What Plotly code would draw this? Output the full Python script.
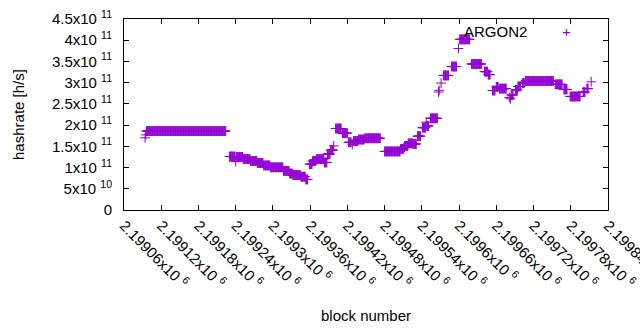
import numpy as np
import plotly.graph_objects as go

# Runs of consecutive blocks sharing the same hashrate estimate (value in units of 1e11 h/s)
run_start = [2199094, 2199095, 2199096, 2199097, 2199230, 2199240, 2199241, 2199252, 2199264, 2199275,
             2199285, 2199296, 2199317, 2199327, 2199332, 2199345, 2199353, 2199359, 2199364, 2199370,
             2199383, 2199388, 2199393, 2199398, 2199401, 2199412, 2199422, 2199428, 2199430, 2199438,
             2199448, 2199480, 2199506, 2199512, 2199518, 2199526, 2199533, 2199541, 2199547, 2199548,
             2199554, 2199567, 2199568, 2199571, 2199575, 2199588, 2199599, 2199601, 2199620, 2199641,
             2199647, 2199654, 2199660, 2199665, 2199681, 2199683, 2199684, 2199691, 2199695, 2199702,
             2199707, 2199755, 2199769, 2199779, 2199800, 2199806, 2199813]
run_end = [2199094, 2199095, 2199096, 2199224, 2199239, 2199240, 2199251, 2199263, 2199274, 2199284,
           2199295, 2199316, 2199326, 2199331, 2199344, 2199352, 2199356, 2199363, 2199369, 2199382,
           2199387, 2199392, 2199397, 2199398, 2199410, 2199420, 2199426, 2199428, 2199437, 2199447,
           2199473, 2199505, 2199511, 2199517, 2199525, 2199531, 2199538, 2199546, 2199547, 2199551,
           2199565, 2199567, 2199568, 2199571, 2199583, 2199596, 2199599, 2199617, 2199636, 2199646,
           2199650, 2199658, 2199663, 2199676, 2199681, 2199683, 2199687, 2199694, 2199699, 2199705,
           2199752, 2199766, 2199774, 2199795, 2199803, 2199808, 2199813]
run_value = [1.70, 1.77, 1.86, 1.86, 1.26, 1.14, 1.25, 1.20, 1.155, 1.107,
             1.05, 1.006, 0.92, 0.86, 0.825, 0.785, 0.72, 1.08, 1.155, 1.20,
             1.12, 1.32, 1.41, 1.51, 1.92, 1.81, 1.595, 1.55, 1.626, 1.66,
             1.69, 1.38, 1.44, 1.51, 1.57, 1.555, 1.74, 1.94, 2.07, 1.98,
             2.16, 2.78, 2.82, 2.99, 3.17, 3.38, 3.805, 4.02, 3.44, 3.26,
             3.19, 2.815, 2.90, 2.86, 2.65, 2.62, 2.71, 2.83, 2.91, 2.99,
             3.04, 2.96, 2.84, 2.675, 2.78, 2.86, 3.02]

x_ticks = [2199060, 2199120, 2199180, 2199240, 2199300, 2199360, 2199420, 2199480,
           2199540, 2199600, 2199660, 2199720, 2199780, 2199840]
x_tick_text = ["2.19906x10 <sup>6</sup>", "2.19912x10 <sup>6</sup>", "2.19918x10 <sup>6</sup>",
               "2.19924x10 <sup>6</sup>", "2.1993x10 <sup>6</sup>", "2.19936x10 <sup>6</sup>",
               "2.19942x10 <sup>6</sup>", "2.19948x10 <sup>6</sup>", "2.19954x10 <sup>6</sup>",
               "2.1996x10 <sup>6</sup>", "2.19966x10 <sup>6</sup>", "2.19972x10 <sup>6</sup>",
               "2.19978x10 <sup>6</sup>", "2.19984x10 <sup>6</sup>"]
y_ticks = [0, 0.5e11, 1e11, 1.5e11, 2e11, 2.5e11, 3e11, 3.5e11, 4e11, 4.5e11]
y_tick_text = ["0", "5x10 <sup>10</sup>", "1x10 <sup>11</sup>", "1.5x10 <sup>11</sup>",
               "2x10 <sup>11</sup>", "2.5x10 <sup>11</sup>", "3x10 <sup>11</sup>",
               "3.5x10 <sup>11</sup>", "4x10 <sup>11</sup>", "4.5x10 <sup>11</sup>"]

blocks = []
rates = []
for s, e, v in zip(run_start, run_end, run_value):
    n = e - s + 1
    blocks.extend(range(s, e + 1))
    rates.extend([v * 1e11] * n)

COLOR = "#9400D3"
FONT = "Liberation Sans, Arial, sans-serif"

fig = go.Figure()
fig.add_trace(go.Scatter(
    x=blocks, y=rates, mode="markers", name="ARGON2",
    marker=dict(symbol="cross-thin-open", size=7, line=dict(width=1, color=COLOR), color=COLOR),
    showlegend=False, cliponaxis=False,
))

axis_common = dict(
    showline=True, linecolor="black", linewidth=1, mirror="ticks",
    ticks="inside", ticklen=5, tickcolor="black", tickwidth=1,
    showgrid=False, zeroline=False, automargin=False,
    ticklabeloverflow="allow",
    tickfont=dict(family=FONT, size=15, color="black"),
)

fig.update_xaxes(range=[2199060, 2199840.05], tickvals=x_ticks, ticktext=x_tick_text,
                 tickangle=45, **axis_common)
fig.update_yaxes(range=[0, 4.5e11], tickvals=y_ticks, ticktext=y_tick_text,
                 ticklabelstandoff=8, **axis_common)

fig.add_annotation(text="hashrate [h/s]", xref="paper", yref="paper", x=-0.218, y=0.5,
                   textangle=-90, showarrow=False, xanchor="center", yanchor="middle",
                   font=dict(family=FONT, size=15, color="black"))
fig.add_annotation(text="block number", xref="paper", yref="paper", x=0.5, y=-0.55,
                   showarrow=False, xanchor="center", yanchor="middle",
                   font=dict(family=FONT, size=15, color="black"))
fig.add_annotation(text="ARGON2", xref="paper", yref="paper", x=0.837, y=0.935,
                   showarrow=False, xanchor="right", yanchor="middle",
                   font=dict(family=FONT, size=15, color="black"))
fig.add_annotation(text="+", xref="paper", yref="paper", x=0.915, y=0.935,
                   showarrow=False, xanchor="center", yanchor="middle",
                   font=dict(family=FONT, size=15, color=COLOR))

fig.update_layout(
    width=640, height=330, autosize=False,
    margin=dict(l=124, r=32, t=19, b=120),
    paper_bgcolor="white", plot_bgcolor="white",
    font=dict(family=FONT, size=15, color="black"),
)

fig.write_html("out.html", config={"displayModeBar": False},
               post_script="document.body.style.margin='0';")
